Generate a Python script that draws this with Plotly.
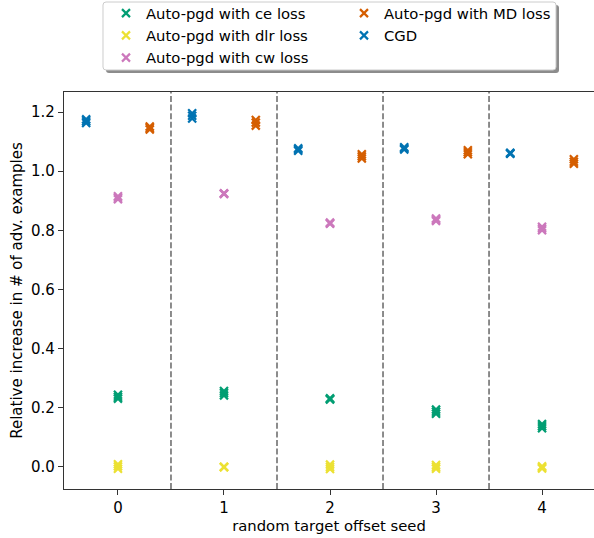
import plotly.graph_objects as go

seeds = [0, 1, 2, 3, 4]

ce_vals = [[0.231, 0.237, 0.244], [0.242, 0.250, 0.257], [0.228, 0.230, 0.232],
           [0.180, 0.187, 0.194], [0.131, 0.138, 0.145]]
dlr_vals = [[-0.006, 0.002, 0.009], [-0.001, 0.0, 0.001], [-0.007, 0.0, 0.008],
            [-0.006, 0.0, 0.007], [-0.005, -0.002, 0.002]]
cw_vals = [[0.905, 0.910, 0.915], [0.923, 0.924, 0.925], [0.822, 0.824, 0.826],
           [0.832, 0.836, 0.840], [0.800, 0.806, 0.812]]
md_vals = [[1.141, 1.146, 1.151], [1.154, 1.164, 1.173], [1.043, 1.050, 1.057],
           [1.057, 1.064, 1.071], [1.025, 1.032, 1.040]]
cgd_vals = [[1.163, 1.169, 1.175], [1.178, 1.187, 1.196], [1.069, 1.073, 1.077],
            [1.073, 1.077, 1.081], [1.059, 1.060, 1.062]]

names = {
    "ce": "Auto-pgd with ce loss",
    "dlr": "Auto-pgd with dlr loss",
    "cw": "Auto-pgd with cw loss",
    "md": "Auto-pgd with MD loss",
    "cgd": "CGD",
}
colors = {"ce": "#029e73", "dlr": "#ece133", "cw": "#cc78bc", "md": "#d55e00", "cgd": "#0173b2"}
offsets = {"ce": 0.0, "dlr": 0.0, "cw": 0.0, "md": 0.3, "cgd": -0.3}
values = {"ce": ce_vals, "dlr": dlr_vals, "cw": cw_vals, "md": md_vals, "cgd": cgd_vals}

fig = go.Figure()
# order so a 2-per-row horizontal legend reads column-wise like the original
for key in ["ce", "md", "dlr", "cgd", "cw"]:
    xs, ys = [], []
    for s, runs in zip(seeds, values[key]):
        for v in runs:
            xs.append(s + offsets[key])
            ys.append(v)
    fig.add_trace(go.Scatter(
        x=xs, y=ys, mode="markers", name=names[key],
        marker=dict(symbol="x-thin", size=8, color=colors[key],
                    line=dict(width=2.2, color=colors[key])),
    ))

shapes = []
for s in seeds[:-1]:
    shapes.append(dict(type="line", xref="x", yref="paper", x0=s + 0.5, x1=s + 0.5,
                       y0=0, y1=1, line=dict(color="#808080", width=1.8, dash="6px,2.6px"),
                       layer="below"))

W, H = 594, 538
L, R, T, B = 64, 0, 92, 49
pw, ph = W - L - R, H - T - B

def px(x, y):
    return (x - L) / pw, (H - B - y) / ph

def rounded_rect(x0, y0, x1, y1, r):
    def p(x, y):
        a, b = px(x, y)
        return f"{a:.5f},{b:.5f}"
    return (f"M {p(x0 + r, y0)} L {p(x1 - r, y0)} Q {p(x1, y0)} {p(x1, y0 + r)} "
            f"L {p(x1, y1 - r)} Q {p(x1, y1)} {p(x1 - r, y1)} "
            f"L {p(x0 + r, y1)} Q {p(x0, y1)} {p(x0, y1 - r)} "
            f"L {p(x0, y0 + r)} Q {p(x0, y0)} {p(x0 + r, y0)} Z")

# legend shadow and frame
shapes.append(dict(type="path", xref="paper", yref="paper",
                   path=rounded_rect(106, 5, 559, 73, 3),
                   fillcolor="#8c8c8c", line=dict(width=0), layer="above"))
shapes.append(dict(type="path", xref="paper", yref="paper",
                   path=rounded_rect(103, 2, 556, 70, 3),
                   fillcolor="white", line=dict(width=1, color="#cccccc"), layer="above"))

lx, ly = px(106, -3)
FONT = "DejaVu Sans"

fig.update_layout(
    width=W, height=H,
    margin=dict(l=L, r=R, t=T, b=B, autoexpand=False),
    paper_bgcolor="white", plot_bgcolor="white",
    font=dict(family=FONT, size=15, color="black"),
    shapes=shapes,
    showlegend=True,
    legend=dict(orientation="h", x=lx, y=ly, xanchor="left", yanchor="top",
                bgcolor="rgba(0,0,0,0)", borderwidth=0,
                entrywidth=193, entrywidthmode="pixels",
                font=dict(family=FONT, size=14.8, color="black"), traceorder="normal"),
    xaxis=dict(range=[-0.509, 4.49], tickvals=seeds, ticktext=[str(s) for s in seeds],
               tickfont=dict(family=FONT, size=15, color="black"),
               showgrid=False, zeroline=False, showline=True, linecolor="#333333",
               linewidth=1.2, mirror=True, ticks="outside", ticklen=5, tickcolor="#333333",
               title=dict(text="random target offset seed", standoff=4,
                          font=dict(family=FONT, size=14.8, color="black"))),
    yaxis=dict(range=[-0.0744, 1.2676], tickvals=[0, 0.2, 0.4, 0.6, 0.8, 1.0, 1.2],
               ticktext=["0.0", "0.2", "0.4", "0.6", "0.8", "1.0", "1.2"],
               tickfont=dict(family=FONT, size=15, color="black"),
               showgrid=False, zeroline=False, showline=True, linecolor="#333333",
               linewidth=1.2, ticks="outside", ticklen=5, tickcolor="#333333",
               title=dict(text="Relative increase in # of adv. examples", standoff=4,
                          font=dict(family=FONT, size=15, color="black"))),
)

fig.write_html("out.html", post_script="document.body.style.margin='0';",
               config={"displayModeBar": False})
